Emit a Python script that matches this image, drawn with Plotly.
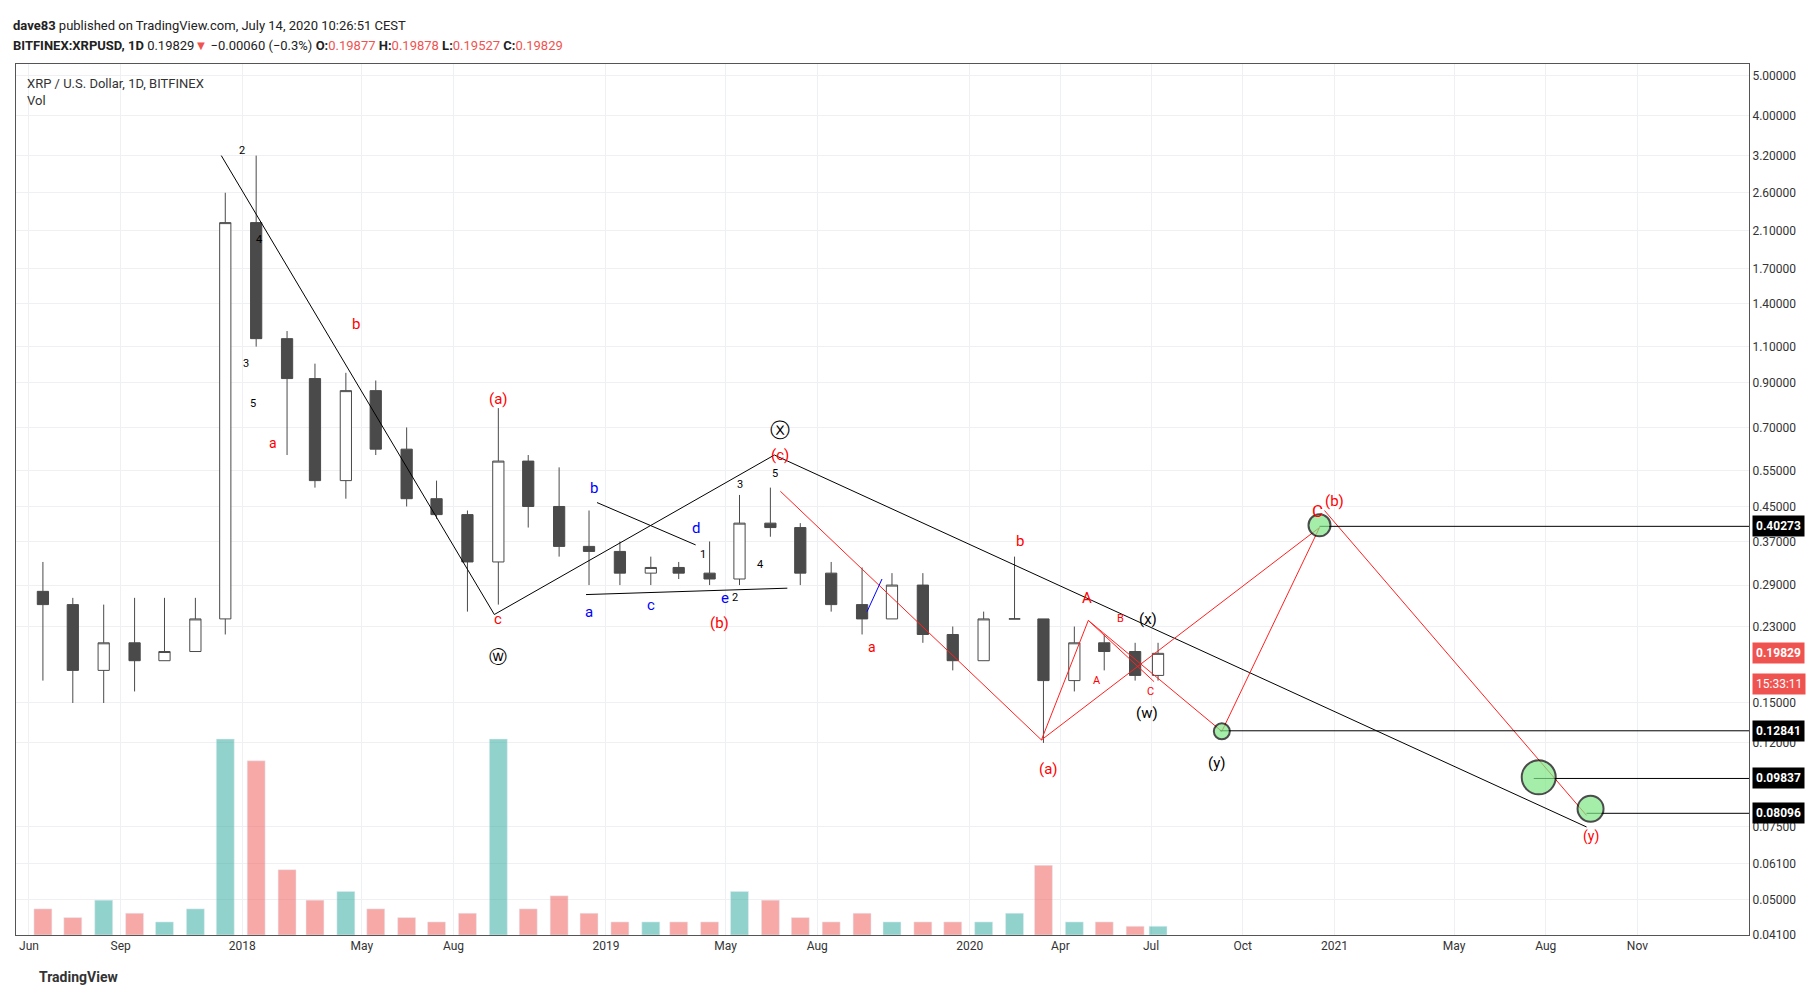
import plotly.graph_objects as go
import numpy as np

months = ["2017-06-15","2017-07-15","2017-08-15","2017-09-15","2017-10-15","2017-11-15","2017-12-15",
"2018-01-15","2018-02-15","2018-03-15","2018-04-15","2018-05-15","2018-06-15","2018-07-15","2018-08-15","2018-09-15","2018-10-15","2018-11-15","2018-12-15",
"2019-01-15","2019-02-15","2019-03-15","2019-04-15","2019-05-15","2019-06-15","2019-07-15","2019-08-15","2019-09-15","2019-10-15","2019-11-15","2019-12-15",
"2020-01-15","2020-02-15","2020-03-15","2020-04-15","2020-05-15","2020-06-15","2020-07-08"]
opens = [.28,.26,.18,.21,.19,.20,.24,2.2,1.15,.92,.52,.86,.62,.47,.43,.33,.58,.45,.36,.35,.31,.32,.31,.30,.41,.40,.31,.26,.24,.29,.22,.19,.24,.24,.17,.21,.20,.175]
highs = [.33,.27,.26,.27,.27,.27,2.6,3.2,1.2,1.0,.95,.91,.70,.52,.44,.78,.60,.56,.44,.37,.34,.33,.37,.48,.50,.41,.33,.32,.31,.31,.23,.25,.34,.24,.23,.22,.21,.21]
lows = [.17,.15,.15,.16,.19,.20,.22,1.1,.60,.50,.47,.60,.45,.42,.25,.26,.40,.34,.29,.29,.29,.30,.29,.29,.38,.29,.25,.22,.24,.21,.18,.19,.24,.12,.16,.18,.17,.17]
closes = [.26,.18,.21,.19,.20,.24,2.2,1.15,.92,.52,.86,.62,.47,.43,.33,.58,.45,.36,.35,.31,.32,.31,.30,.41,.40,.31,.26,.24,.29,.22,.19,.24,.24,.17,.21,.20,.175,.198]
volumes = [0.6,0.4,0.8,0.5,0.3,0.6,4.5,4.0,1.5,0.8,1.0,0.6,0.4,0.3,0.5,4.5,0.6,0.9,0.5,0.3,0.3,0.3,0.3,1.0,0.8,0.4,0.3,0.5,0.3,0.3,0.3,0.3,0.5,1.6,0.3,0.3,0.2,0.2]

ticks_x = ["2017-06-01","2017-09-01","2018-01-01","2018-05-01","2018-08-01","2019-01-01","2019-05-01","2019-08-01","2020-01-01","2020-04-01","2020-07-01","2020-10-01","2021-01-01","2021-05-01","2021-08-01","2021-11-01"]
ticks_xt = ["Jun","Sep","2018","May","Aug","2019","May","Aug","2020","Apr","Jul","Oct","2021","May","Aug","Nov"]
ticks_y = [0.041,0.05,0.061,0.075,0.12,0.15,0.23,0.29,0.37,0.45,0.55,0.70,0.90,1.10,1.40,1.70,2.10,2.60,3.20,4.00,5.00]

fig = go.Figure()
vcol = ["rgba(38,166,154,0.5)" if c >= o else "rgba(239,83,80,0.5)" for o, c in zip(opens, closes)]
fig.add_trace(go.Bar(x=months, y=volumes, marker_color=vcol, yaxis="y2", width=18*86400000, showlegend=False))
fig.add_trace(go.Candlestick(x=months, open=opens, high=highs, low=lows, close=closes,
    increasing=dict(line=dict(color="#4a4a4a", width=1), fillcolor="#ffffff"),
    decreasing=dict(line=dict(color="#4a4a4a", width=1), fillcolor="#4a4a4a"), showlegend=False))

def line(xs, ys, color, w=1):
    fig.add_trace(go.Scatter(x=xs, y=ys, mode="lines", line=dict(color=color, width=w), showlegend=False, hoverinfo="skip"))

line(["2017-12-11","2018-09-11"], [3.2, 0.246], "black")
line(["2018-09-11","2019-06-19","2021-09-11"], [0.246, 0.60, 0.075], "black")
line(["2018-12-12","2019-07-02"], [0.275, 0.285], "black")
line(["2018-12-23","2019-04-01"], [0.46, 0.363], "black")
red = "#ff2020"
line(["2019-06-25","2020-03-13","2020-04-29","2020-07-04"], [0.49, 0.122, 0.238, 0.169], red)
line(["2020-03-13","2020-12-17"], [0.122, 0.40], red)
line(["2020-04-29","2020-09-10","2020-12-17"], [0.238, 0.128, 0.40], red)
line(["2020-12-22","2021-09-11"], [0.44, 0.080], red)
line(["2019-09-20","2019-10-05"], [0.25, 0.30], "blue")
for d, v in [("2020-12-17",0.40273),("2020-09-08",0.12841),("2021-07-20",0.09837),("2021-09-11",0.08096)]:
    line([d, "2022-02-21"], [v, v], "black")
fig.add_trace(go.Scatter(x=["2020-12-17","2020-09-10","2021-07-25","2021-09-15"], y=[0.405,0.128,0.099,0.083],
    mode="markers", marker=dict(size=[22,16,34,26], color="#7ee787", line=dict(color="black", width=2), symbol="circle"),
    showlegend=False, hoverinfo="skip"))

labels = [
 ("2", "2018-01-01", 3.3, "black", 11), ("4", "2018-01-18", 2.0, "black", 11), ("3", "2018-01-05", 1.0, "black", 11),
 ("5", "2018-01-12", 0.8, "black", 11), ("a", "2018-02-01", 0.64, "red", 14), ("b", "2018-04-25", 1.25, "red", 15),
 ("(a)", "2018-09-15", 0.82, "red", 15), ("c", "2018-09-15", 0.24, "red", 15), ("ⓦ", "2018-09-15", 0.195, "black", 18),
 ("b", "2018-12-20", 0.50, "blue", 15), ("a", "2018-12-15", 0.25, "blue", 15), ("c", "2019-02-15", 0.26, "blue", 15),
 ("d", "2019-04-01", 0.40, "blue", 15), ("e", "2019-04-30", 0.27, "blue", 15), ("1", "2019-04-08", 0.345, "black", 11),
 ("2", "2019-05-10", 0.27, "black", 11), ("3", "2019-05-15", 0.51, "black", 11), ("4", "2019-06-05", 0.325, "black", 11),
 ("5", "2019-06-20", 0.54, "black", 11), ("ⓧ", "2019-06-25", 0.69, "black", 20), ("(c)", "2019-06-25", 0.60, "red", 15),
 ("(b)", "2019-04-25", 0.235, "red", 15), ("a", "2019-09-25", 0.205, "red", 14), ("b", "2020-02-20", 0.37, "red", 15),
 ("(a)", "2020-03-20", 0.104, "red", 15), ("A", "2020-04-28", 0.27, "red", 15), ("B", "2020-05-31", 0.24, "red", 11),
 ("A", "2020-05-08", 0.17, "red", 11), ("C", "2020-06-30", 0.16, "red", 11), ("(x)", "2020-06-28", 0.24, "black", 15),
 ("(w)", "2020-06-27", 0.142, "black", 15), ("(y)", "2020-09-05", 0.107, "black", 15), ("(b)", "2021-01-01", 0.465, "red", 15),
 ("C", "2020-12-15", 0.44, "red", 17), ("(y)", "2021-09-15", 0.071, "red", 14),
]
ann = []
for t, d, v, c, s in labels:
    ann.append(dict(x=d, y=np.log10(v), text=t, showarrow=False, font=dict(color=c, size=s), xref="x", yref="y"))
for v, bg in [(0.40273,"black"),(0.12841,"black"),(0.09837,"black"),(0.08096,"black"),(0.19829,"#ef5350")]:
    ann.append(dict(xref="paper", x=1.002, y=np.log10(v), yref="y", text=f"<b>{v:.5f}</b>", showarrow=False, xanchor="left",
                    bgcolor=bg, font=dict(color="white", size=12), borderpad=3))
ann.append(dict(xref="paper", x=1.002, y=np.log10(0.167), yref="y", text="15:33:11", showarrow=False, xanchor="left",
                bgcolor="#ef5350", font=dict(color="white", size=12), borderpad=3))
ann.append(dict(xref="paper", yref="paper", x=0.005, y=0.988, xanchor="left", yanchor="top", showarrow=False,
                text="XRP / U.S. Dollar, 1D, BITFINEX<br>Vol", align="left", font=dict(size=13, color="#333")))
ann.append(dict(xref="paper", yref="paper", x=-0.003, y=1.044, xanchor="left", yanchor="middle", showarrow=False,
                text="<b>dave83</b> published on TradingView.com, July 14, 2020 10:26:51 CEST", font=dict(size=13, color="#222")))
ann.append(dict(xref="paper", yref="paper", x=-0.003, y=1.021, xanchor="left", yanchor="middle", showarrow=False,
                text="<b>BITFINEX:XRPUSD, 1D</b> 0.19829<span style='color:#ef5350'>▼</span> −0.00060 (−0.3%) <b>O:</b><span style='color:#ef5350'>0.19877</span> <b>H:</b><span style='color:#ef5350'>0.19878</span> <b>L:</b><span style='color:#ef5350'>0.19527</span> <b>C:</b><span style='color:#ef5350'>0.19829</span>",
                font=dict(size=13, color="#222")))
ann.append(dict(xref="paper", yref="paper", x=0.012, y=-0.06, xanchor="left", showarrow=False,
                text="<b>TradingView</b>", font=dict(size=14, color="#333")))

fig.update_layout(
    width=1817, height=993, margin=dict(l=8, r=76, t=56, b=66),
    paper_bgcolor="white", plot_bgcolor="white", font=dict(family="Roboto, sans-serif"),
    xaxis=dict(range=["2017-05-19","2022-02-21"], tickvals=ticks_x, ticktext=ticks_xt, showgrid=True, gridcolor="#eef0f3",
               rangeslider=dict(visible=False), mirror=True, showline=True, linecolor="#555", ticks="", tickfont=dict(size=12, color="#333")),
    yaxis=dict(type="log", range=[np.log10(0.041), np.log10(5.34)], side="right", tickvals=ticks_y,
               ticktext=[f"{v:.5f}" for v in ticks_y], showgrid=True, gridcolor="#eef0f3", showline=True, linecolor="#555",
               mirror=True, tickfont=dict(size=12, color="#333")),
    yaxis2=dict(overlaying="y", range=[0, 20], visible=False),
    annotations=ann,
    shapes=[dict(type="line", xref="paper", x0=0, x1=1, yref="y", y0=np.log10(0.19829), y1=np.log10(0.19829),
                 line=dict(color="#ef5350", width=1, dash="dot"))],
)
fig.write_html("out.html")
